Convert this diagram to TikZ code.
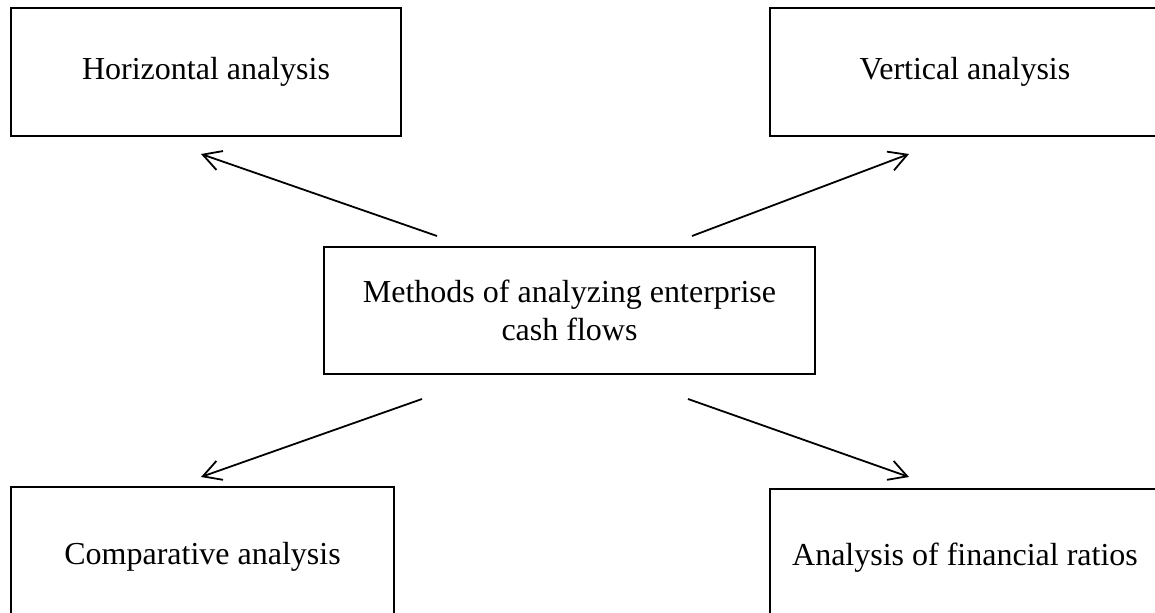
\documentclass[tikz,border=0pt]{standalone}
\usepackage{fontspec}
\setmainfont{Liberation Serif}
\usetikzlibrary{arrows.meta,calc}
\begin{document}
\begin{tikzpicture}[x=0.5pt,y=-0.5pt,
  box/.style={draw,line width=0.7pt,inner sep=0pt,outer sep=0pt,align=center,
    font=\fontsize{16}{19}\selectfont},
  arr/.style={line width=0.9pt,-{Straight Barb[length=9pt,width=10pt]}}]
\useasboundingbox (0,0) rectangle (1155,613);
\node[box,minimum width=195pt,minimum height=64pt] (hor) at (206,72) {Horizontal analysis};
\node[box,minimum width=195pt,minimum height=64pt] (ver) at (965,72) {Vertical analysis};
\node[box,minimum width=245.5pt,minimum height=63.5pt] (ctr) at (569.5,310.5) {Methods of analyzing enterprise\\cash flows};
\node[box,minimum width=191.5pt,minimum height=70pt] (cmp) at (202.5,557) {Comparative analysis};
\node[box,minimum width=195pt,minimum height=69pt] (fin) at (965,558) {Analysis of financial ratios};
\coordinate (s1) at ($(ctr.north west)+(113,-11)$);
\coordinate (e1) at ($(hor.south west)+(190,18)$);
\coordinate (s2) at ($(ctr.north west)+(368,-11)$);
\coordinate (e2) at ($(ver.south west)+(139,18)$);
\coordinate (s3) at ($(ctr.south west)+(98,25)$);
\coordinate (e3) at ($(cmp.north west)+(190,-10)$);
\coordinate (s4) at ($(ctr.south west)+(364,25)$);
\coordinate (e4) at ($(fin.north west)+(139,-12)$);
\draw[arr] (s1) -- (e1);
\draw[arr] (s2) -- (e2);
\draw[arr] (s3) -- (e3);
\draw[arr] (s4) -- (e4);
\end{tikzpicture}
\end{document}
